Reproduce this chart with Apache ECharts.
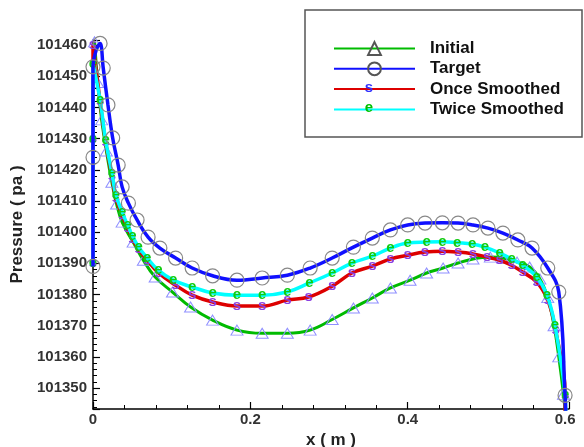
<!DOCTYPE html>
<html>
<head>
<meta charset="utf-8">
<script src="https://cdn.jsdelivr.net/npm/echarts@6/dist/echarts.min.js"></script>
<style>
html,body{margin:0;padding:0;background:#fff;}
#c{width:584px;height:447px;}
</style>
</head>
<body>
<div id="c"></div>
<script>
// Series names
const seriesNames = ['Initial', 'Target', 'Once Smoothed', 'Twice Smoothed'];

// Initial
const xInitial = [0.002,0.006,0.011,0.017,0.024,0.030,0.037,0.051,0.064,0.079,0.101,0.124,0.152,0.183,0.215,0.247,0.276,0.304,0.331,0.355,0.378,0.403,0.424,0.445,0.464,0.483,0.505,0.521,0.539,0.555,0.568,0.578,0.586,0.592,0.598,0.601];
const yInitial = [101461,101448,101436,101426,101416,101409,101403.2,101396.8,101391,101385.6,101380.8,101376,101371.8,101368.6,101367.6,101367.6,101368.6,101372,101375.7,101378.9,101382.1,101384.6,101386.9,101388.5,101390.1,101391.4,101392,101391.7,101390.4,101388.8,101385,101379,101370,101360,101348,101340];

// Target
const xTarget = [0,0,0,0.009,0.013,0.019,0.025,0.032,0.037,0.045,0.056,0.070,0.085,0.105,0.126,0.152,0.183,0.215,0.247,0.276,0.304,0.331,0.355,0.378,0.400,0.422,0.444,0.464,0.483,0.502,0.521,0.540,0.558,0.578,0.592,0.600,0.601];
const yTarget = [101389,101424,101453,101460.5,101452.6,101440.8,101430.2,101421.5,101414.5,101409.3,101403.9,101398.4,101394.9,101391.7,101388.5,101386,101384.6,101385.3,101386.2,101388.5,101391.7,101395.2,101398.1,101400.7,101402.3,101402.9,101403,101402.9,101402.3,101401.3,101399.7,101397.5,101394.9,101388.5,101380.8,101347.7,101340];

// Once Smoothed
const xOnce = [0,0,0,0.009,0.016,0.024,0.029,0.037,0.044,0.050,0.058,0.069,0.083,0.105,0.126,0.152,0.183,0.215,0.247,0.274,0.304,0.329,0.355,0.378,0.400,0.422,0.444,0.464,0.483,0.501,0.517,0.532,0.546,0.564,0.578,0.588,0.600,0.600];
const yOnce = [101390,101430,101460,101442,101429,101418,101411,101405.5,101401.5,101398,101394.5,101391,101387,101383,101379.8,101377.6,101376.3,101376.3,101378.2,101379.2,101382.7,101386.9,101389.1,101391.4,101392.6,101393.6,101393.9,101393.6,101393,101392,101391,101389.4,101387.2,101384,101378.2,101368.6,101347.7,101342];

// Twice Smoothed
const xTwice = [0,0,0,0.009,0.016,0.024,0.029,0.037,0.044,0.050,0.058,0.069,0.083,0.102,0.126,0.152,0.183,0.215,0.247,0.275,0.304,0.329,0.355,0.378,0.400,0.424,0.444,0.463,0.482,0.498,0.517,0.532,0.546,0.564,0.577,0.587,0.600,0.601];
const yTwice = [101390,101430,101454,101442.4,101429.5,101419,101412,101406.4,101402.3,101398.8,101395.2,101391.7,101387.8,101384.6,101382.4,101380.5,101379.8,101379.8,101380.8,101383.7,101386.9,101390.1,101392.3,101394.9,101396.5,101396.8,101396.9,101396.6,101396.2,101395.2,101393.3,101391.4,101389.4,101385.6,101379.8,101370.2,101347.7,101340];

// Axis ranges / ticks
const xMin = 0, xMax = 0.605, xInterval = 0.2;
const yMin = 101343.3, yMax = 101461.6, yStep = 10;

const zip = (xs, ys) => xs.map((x, i) => [x, ys[i]]);

const FONT = '"Liberation Sans", Arial, sans-serif';
const chart = echarts.init(document.getElementById('c'), null, {renderer: 'canvas'});

chart.setOption({
  animation: false,
  backgroundColor: '#fff',
  grid: {left: 93, right: 15, top: 40, bottom: 38, containLabel: false, outerBoundsMode: 'none'},
  xAxis: {
    type: 'value', min: xMin, max: xMax, interval: xInterval,
    name: 'x ( m )', nameLocation: 'middle', nameGap: 15,
    nameTextStyle: {fontFamily: FONT, fontSize: 17, fontWeight: 'bold', color: '#222'},
    axisLine: {show: true, onZero: false, lineStyle: {color: '#000', width: 1.5}},
    axisTick: {show: true, inside: true, length: 7, lineStyle: {color: '#000', width: 1.2}},
    minorTick: {show: true, splitNumber: 5, length: 4, lineStyle: {color: '#000', width: 1}},
    splitLine: {show: false},
    axisLabel: {
      margin: 3, fontFamily: FONT, fontSize: 15, fontWeight: 'bold', color: '#333',
      formatter: v => (Math.abs(v / xInterval - Math.round(v / xInterval)) < 1e-6 ? String(+(Math.round(v / xInterval) * xInterval).toFixed(1)) : '')
    }
  },
  yAxis: {
    type: 'value', min: yMin, max: yMax, splitNumber: 12,
    name: 'Pressure ( pa )', nameLocation: 'middle', nameGap: 66,
    nameTextStyle: {fontFamily: FONT, fontSize: 17, fontWeight: 'bold', color: '#222'},
    axisLine: {show: true, onZero: false, lineStyle: {color: '#000', width: 1.5}},
    axisTick: {show: true, inside: true, length: 7, lineStyle: {color: '#000', width: 1.2}},
    minorTick: {show: true, splitNumber: 5, length: 4, lineStyle: {color: '#000', width: 1}},
    splitLine: {show: false},
    axisLabel: {
      margin: 6, fontFamily: FONT, fontSize: 15, fontWeight: 'bold', color: '#333',
      formatter: v => (Math.abs(v / yStep - Math.round(v / yStep)) < 1e-6 ? String(Math.round(v)) : '')
    }
  },
  legend: {
    orient: 'vertical', left: 328, top: 35,
    itemWidth: 81, itemHeight: 16, itemGap: 3.3,
    textStyle: {fontFamily: FONT, fontSize: 17, fontWeight: 'bold', color: '#111', padding: [0, 0, 0, 10]},
    data: [
      {name: 'Initial', itemStyle: {borderColor: '#555'}},
      {name: 'Target', itemStyle: {borderColor: '#555'}},
      {name: 'Once Smoothed'},
      {name: 'Twice Smoothed'}
    ]
  },
  graphic: [
    {type: 'rect', shape: {x: 305, y: 10, width: 277, height: 127}, style: {fill: 'none', stroke: '#555', lineWidth: 1.5}, z: 100},
    {type: 'text', x: 369, y: 88, style: {text: 's', fill: '#3030ff', font: 'bold 15px ' + FONT, textAlign: 'center', textVerticalAlign: 'middle'}, z: 101},
    {type: 'text', x: 369, y: 108, style: {text: 'e', fill: '#00c000', font: 'bold 15px ' + FONT, textAlign: 'center', textVerticalAlign: 'middle'}, z: 101}
  ],
  series: [
    {
      name: seriesNames[0], type: 'line', data: zip(xInitial, yInitial), smooth: 0.4,
      symbol: 'triangle', symbolSize: [12, 10],
      itemStyle: {color: 'transparent', borderColor: '#8f8fff', borderWidth: 1},
      lineStyle: {color: '#00bb00', width: 3}, z: 2
    },
    {
      name: seriesNames[2], type: 'line', data: zip(xOnce, yOnce), smooth: 0.4,
      symbol: 'circle', symbolSize: 1,
      itemStyle: {color: 'transparent', borderColor: 'transparent'},
      label: {show: true, position: 'inside', formatter: 's', color: '#8a3ee0', fontFamily: FONT, fontSize: 15, fontWeight: 'bold'},
      lineStyle: {color: '#dd0000', width: 3.5}, z: 3
    },
    {
      name: seriesNames[3], type: 'line', data: zip(xTwice, yTwice), smooth: 0.4,
      symbol: 'circle', symbolSize: 1,
      itemStyle: {color: 'transparent', borderColor: 'transparent'},
      label: {show: true, position: 'inside', formatter: 'e', color: '#11cc11', fontFamily: FONT, fontSize: 15, fontWeight: 'bold'},
      lineStyle: {color: '#00ffff', width: 3.5}, z: 4
    },
    {
      name: seriesNames[1], type: 'line', data: zip(xTarget, yTarget), smooth: 0.4,
      symbol: 'circle', symbolSize: 14,
      itemStyle: {color: 'transparent', borderColor: '#888', borderWidth: 1.2},
      lineStyle: {color: '#1010ff', width: 3.5}, z: 5
    }
  ]
});
</script>
</body>
</html>
